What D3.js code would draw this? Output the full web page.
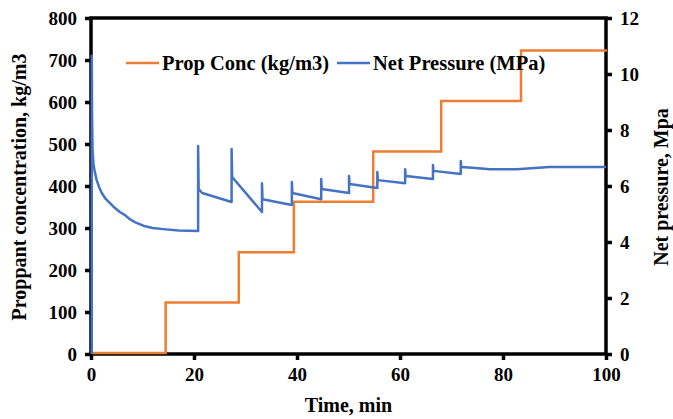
<!DOCTYPE html>
<meta charset="utf-8">
<script src="https://d3js.org/d3.v7.min.js"></script>
<style>
  body { margin: 0; background: #fff; }
  svg text { font-family: "Liberation Serif", "Times New Roman", serif; font-weight: bold; }
</style>
<div id="chart"></div>
<script>
  // proppant concentration steps (kg/m3) against time (min)
  var propTime = [0, 14.3, 28.5, 39.2, 54.6, 67.8, 83.3, 100];
  var propConc = [0, 120, 240, 360, 480, 600, 720, 720];

  // net pressure (MPa) against time (min)
  var pressTime = [0.15, 0.15, 0.2, 0.3, 0.5, 0.8, 1.1, 1.6, 2.1, 2.8, 3.7, 4.6, 5.6, 6.6, 7.5, 8.5, 10.5, 12, 14, 17, 20.8,
    20.8, 20.9, 21.6, 27.3, 27.3, 27.4, 33.2, 33.2, 33.3, 39, 39, 39.1, 44.7, 44.7, 44.8,
    50.1, 50.1, 50.2, 55.6, 55.6, 55.7, 61, 61, 61.1, 66.4, 66.4, 66.5, 71.8, 71.8, 71.9,
    74, 77.5, 82.7, 89, 100];
  var pressure = [0, 10.65, 8.6, 7.3, 6.75, 6.45, 6.21, 5.95, 5.75, 5.55, 5.39, 5.22, 5.07, 4.96, 4.82, 4.71, 4.56, 4.5, 4.46, 4.41, 4.39,
    7.43, 5.89, 5.75, 5.43, 7.32, 6.32, 5.07, 6.1, 5.53, 5.32, 6.14, 5.75, 5.53, 6.25, 5.89,
    5.75, 6.36, 6.07, 5.93, 6.5, 6.21, 6.1, 6.6, 6.36, 6.25, 6.75, 6.54, 6.43, 6.89, 6.68,
    6.65, 6.6, 6.6, 6.68, 6.68];

  var xTicks = [0, 20, 40, 60, 80, 100];
  var yLeftTicks = [0, 100, 200, 300, 400, 500, 600, 700, 800];
  var yRightTicks = [0, 2, 4, 6, 8, 10, 12];

  var W = 673, H = 419;
  var margin = { top: 18, right: 67, bottom: 65, left: 91 };
  var width = W - margin.left - margin.right,
    height = H - margin.top - margin.bottom;

  var svg = d3.select("#chart").append("svg")
    .attr("width", W).attr("height", H);
  var g = svg.append("g")
    .attr("transform", "translate(" + margin.left + "," + margin.top + ")");

  var x = d3.scaleLinear().domain([0, 100]).range([0, width]);
  var yL = d3.scaleLinear().domain([0, 800]).range([height, 0]);
  var yR = d3.scaleLinear().domain([0, 12]).range([height, 0]);

  // frame
  g.append("rect")
    .attr("width", width).attr("height", height)
    .attr("fill", "none").attr("stroke", "#000").attr("stroke-width", 3.5);

  // axes
  function styleAxis(sel) {
    sel.select(".domain").remove();
    sel.selectAll(".tick line").attr("stroke", "#000").attr("stroke-width", 3.5);
    sel.selectAll(".tick text").attr("fill", "#000").style("font-size", "19px");
  }

  g.append("g")
    .attr("transform", "translate(0," + height + ")")
    .call(d3.axisBottom(x).tickValues(xTicks).tickSize(6).tickPadding(8))
    .call(styleAxis);

  g.append("g")
    .call(d3.axisLeft(yL).tickValues(yLeftTicks).tickSize(6).tickPadding(8))
    .call(styleAxis);

  g.append("g")
    .attr("transform", "translate(" + width + ",0)")
    .call(d3.axisRight(yR).tickValues(yRightTicks).tickSize(6).tickPadding(8))
    .call(styleAxis);

  // lines, drawn over the frame
  var propData = propTime.map(function (t, i) { return [t, propConc[i]]; });
  var pressData = pressTime.map(function (t, i) { return [t, pressure[i]]; });

  g.append("path")
    .datum(propData)
    .attr("fill", "none")
    .attr("stroke", "#ED7D31")
    .attr("stroke-width", 2.5)
    .attr("transform", "translate(1,-1)")
    .attr("d", d3.line().curve(d3.curveStepAfter)
      .x(function (d) { return x(d[0]); })
      .y(function (d) { return yL(d[1]); }));

  g.append("path")
    .datum(pressData)
    .attr("fill", "none")
    .attr("stroke", "#4472C4")
    .attr("stroke-width", 2.5)
    .attr("stroke-linejoin", "round")
    .attr("d", d3.line()
      .x(function (d) { return x(d[0]); })
      .y(function (d) { return yR(d[1]); }));

  // axis titles
  svg.append("text")
    .attr("x", margin.left + width / 2)
    .attr("y", 412)
    .attr("text-anchor", "middle")
    .style("font-size", "20px")
    .text("Time, min");

  svg.append("text")
    .attr("transform", "translate(26,187) rotate(-90)")
    .attr("text-anchor", "middle")
    .style("font-size", "20px")
    .text("Proppant concentration, kg/m3");

  svg.append("text")
    .attr("transform", "translate(668,187) rotate(-90)")
    .attr("text-anchor", "middle")
    .style("font-size", "20px")
    .text("Net pressure, Mpa");

  // legend
  var legend = [
    { name: "Prop Conc (kg/m3)", color: "#ED7D31", x: 126 },
    { name: "Net Pressure (MPa)", color: "#4472C4", x: 337 }
  ];
  legend.forEach(function (d) {
    svg.append("line")
      .attr("x1", d.x).attr("x2", d.x + 33)
      .attr("y1", 63).attr("y2", 63)
      .attr("stroke", d.color).attr("stroke-width", 2.5);
    svg.append("text")
      .attr("x", d.x + 36).attr("y", 70)
      .style("font-size", "20.5px")
      .text(d.name);
  });
</script>
